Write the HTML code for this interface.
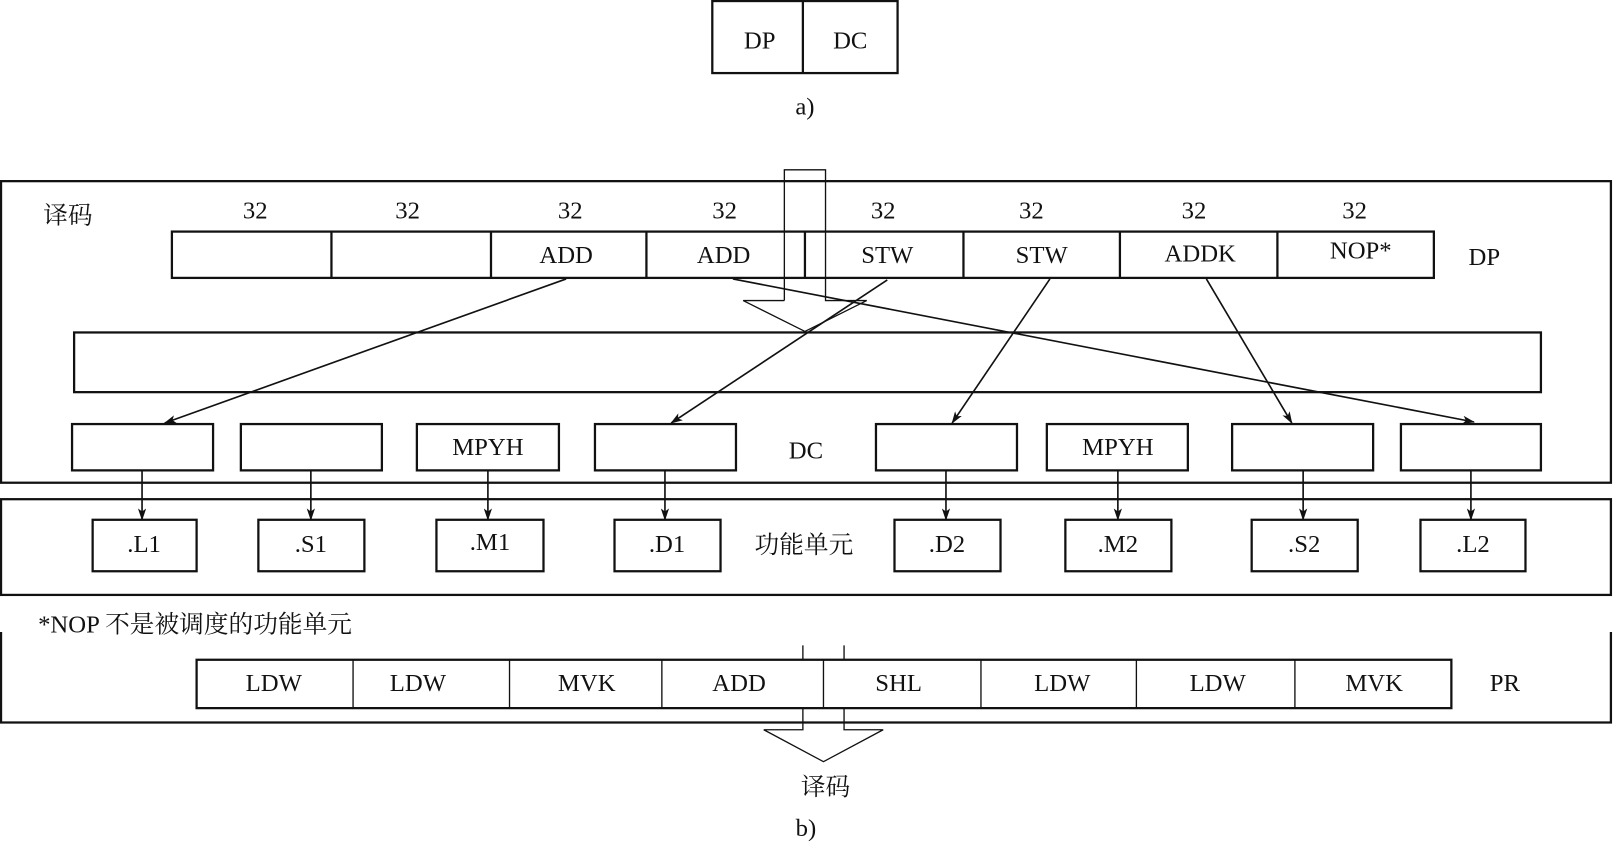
<!DOCTYPE html>
<html><head><meta charset="utf-8"><style>
html,body{margin:0;padding:0;background:#fff;}
svg{display:block;}
text{font-family:"Liberation Serif","Noto Serif CJK SC","Noto Sans CJK SC",serif;font-size:24px;fill:#111;text-anchor:middle;dominant-baseline:central;}
</style></head><body>
<svg width="1614" height="844" viewBox="0 0 1568 820" preserveAspectRatio="none" xmlns="http://www.w3.org/2000/svg">
<defs>
<marker id="ah" markerWidth="12" markerHeight="8" refX="11" refY="4" orient="auto" markerUnits="userSpaceOnUse">
<path d="M0,0 L12,4 L0,8 L3,4 Z" fill="#111"/>
</marker>
</defs>
<g fill="none" stroke="#111" stroke-width="2.2">
<!-- a -->
<rect x="692" y="1" width="180" height="70"/>
<line x1="780" y1="1" x2="780" y2="71"/>
<!-- outer boxes -->
<rect x="1" y="176" width="1564" height="293"/>
<rect x="1" y="485" width="1564" height="93"/>
<!-- DP row -->
<rect x="167" y="225" width="1226" height="45"/>
<path d="M322 225V270M477 225V270M628 225V270M782 225V270M936 225V270M1088 225V270M1241 225V270"/>
<!-- wide box -->
<rect x="72" y="323" width="1425" height="58"/>
<!-- DC boxes -->
<rect x="70" y="412" width="137" height="45"/>
<rect x="234" y="412" width="137" height="45"/>
<rect x="405" y="412" width="138" height="45"/>
<rect x="578" y="412" width="137" height="45"/>
<rect x="851" y="412" width="137" height="45"/>
<rect x="1017" y="412" width="137" height="45"/>
<rect x="1197" y="412" width="137" height="45"/>
<rect x="1361" y="412" width="136" height="45"/>
<!-- unit boxes -->
<rect x="90" y="505" width="101" height="50"/>
<rect x="251" y="505" width="103" height="50"/>
<rect x="424" y="505" width="104" height="50"/>
<rect x="597" y="505" width="103" height="50"/>
<rect x="869" y="505" width="103" height="50"/>
<rect x="1035" y="505" width="103" height="50"/>
<rect x="1216" y="505" width="103" height="50"/>
<rect x="1380" y="505" width="102" height="50"/>
<!-- bottom box -->
<path d="M1 614V702H1565V614"/>
<rect x="191" y="641" width="1219" height="47"/>
</g>
<g fill="none" stroke="#111" stroke-width="1.3">
<path d="M343 641V688M495 641V688M643 641V688M800 641V688M953 641V688M1104 641V688M1258 641V688"/>
<!-- top hollow arrow -->
<path d="M762 292V165H802V292H842L782 322L722 292H762"/>
<!-- bottom hollow arrow -->
<path d="M780 627V641M820 627V641"/>
<path d="M780 688V709H742L800 740L858 709H820V688"/>
</g>
<g stroke="#111" stroke-width="1.6" marker-end="url(#ah)">
<line x1="550" y1="271" x2="160" y2="411"/>
<line x1="712" y1="271" x2="1432" y2="410"/>
<line x1="862" y1="272" x2="652" y2="411"/>
<line x1="1020" y1="271" x2="925" y2="411"/>
<line x1="1172" y1="271" x2="1255" y2="411"/>
<line x1="138" y1="457" x2="138" y2="505"/>
<line x1="302" y1="457" x2="302" y2="505"/>
<line x1="474" y1="457" x2="474" y2="505"/>
<line x1="646" y1="457" x2="646" y2="505"/>
<line x1="919" y1="457" x2="919" y2="505"/>
<line x1="1086" y1="457" x2="1086" y2="505"/>
<line x1="1266" y1="457" x2="1266" y2="505"/>
<line x1="1429" y1="457" x2="1429" y2="505"/>
</g>
<text x="738" y="40">DP</text>
<text x="826" y="40">DC</text>
<text x="782" y="104">a)</text>
<text x="66" y="210">译码</text>
<text x="248" y="205">32</text><text x="396" y="205">32</text><text x="554" y="205">32</text><text x="704" y="205">32</text>
<text x="858" y="205">32</text><text x="1002" y="205">32</text><text x="1160" y="205">32</text><text x="1316" y="205">32</text>
<text x="550" y="248">ADD</text><text x="703" y="248">ADD</text><text x="862" y="248">STW</text><text x="1012" y="248">STW</text>
<text x="1166" y="247">ADDK</text><text x="1322" y="244">NOP*</text><text x="1442" y="250">DP</text>
<text x="474" y="435">MPYH</text><text x="1086" y="435">MPYH</text><text x="783" y="438">DC</text>
<text x="140" y="529">.L1</text><text x="302" y="529">.S1</text><text x="476" y="527">.M1</text><text x="648" y="529">.D1</text>
<text x="781" y="530">功能单元</text>
<text x="920" y="529">.D2</text><text x="1086" y="529">.M2</text><text x="1267" y="529">.S2</text><text x="1431" y="529">.L2</text>
<text x="37" y="607" style="text-anchor:start">*NOP 不是被调度的功能单元</text>
<text x="266" y="664">LDW</text><text x="406" y="664">LDW</text><text x="570" y="664">MVK</text><text x="718" y="664">ADD</text>
<text x="873" y="664">SHL</text><text x="1032" y="664">LDW</text><text x="1183" y="664">LDW</text><text x="1335" y="664">MVK</text>
<text x="1462" y="664">PR</text>
<text x="802" y="765">译码</text>
<text x="783" y="805">b)</text>
</svg>
</body></html>
